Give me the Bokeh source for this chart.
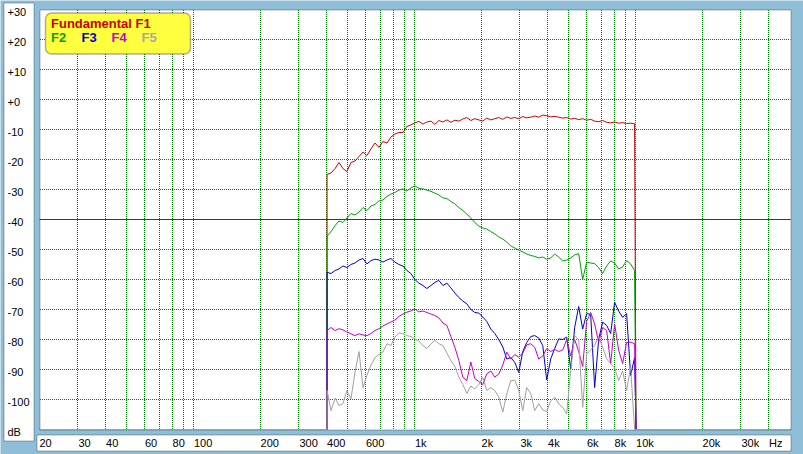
import math
from bokeh.plotting import figure
from bokeh.models import Range1d, BoxAnnotation, Label, ColumnDataSource
from bokeh.embed import file_html
from bokeh.resources import INLINE

# ---------------- data ----------------
FREQ_HZ = [400, 417, 435, 453, 472, 492, 513, 535, 558, 582,
           606, 632, 659, 687, 716, 747, 778, 811, 846, 882,
           919, 958, 999, 1041, 1086, 1132, 1180, 1230, 1282, 1337,
           1394, 1453, 1515, 1579, 1646, 1716, 1789, 1865, 1944, 2027,
           2113, 2203, 2296, 2394, 2496, 2602, 2712, 2827, 2947, 3073,
           3203, 3339, 3481, 3629, 3784, 3944, 4112, 4287, 4469, 4659,
           4857, 5063, 5278, 5503, 5737, 5980, 6234, 6499, 6776, 7063,
           7364, 7677, 8003, 8343, 8698, 9067, 9453, 9854]

F1_DB = [-25, -24.5, -23, -21, -23, -24, -21, -20.5, -19, -17.5,
         -18.7, -16.5, -14.5, -16, -14, -14.5, -12.5, -11.5, -11, -11,
         -9, -8.5, -7.8, -7.3, -8.2, -7.5, -7.2, -8.3, -7, -7.5,
         -6.8, -7.6, -6.9, -7.2, -6.5, -6, -7, -6.4, -6.8, -7.2,
         -6.2, -6.8, -6.4, -6, -6.6, -5.8, -6.3, -6, -6.4, -5.7,
         -6.1, -5.9, -5.5, -5.9, -5.2, -5.4, -5.8, -5.6, -5.9, -6.2,
         -6, -6.5, -6.3, -6.7, -6.4, -6.9, -6.6, -7.2, -7.4, -7,
         -7.6, -7.8, -7.5, -7.9, -7.7, -8, -7.9, -8.1]

F2_DB = [-45.5, -44, -42, -40.5, -41, -39.5, -38, -38.5, -37.5, -36,
         -37, -35.5, -35, -33.8, -33.5, -32.3, -31.5, -31, -30.2, -29.8,
         -30.5, -29.5, -28.8, -29.6, -29.8, -30.2, -30.6, -31.2, -31.8, -32.8,
         -33, -34, -34.8, -36, -37, -38.2, -39.5, -41, -42.2, -42.8,
         -43.2, -44, -44.8, -45.8, -46.5, -47.5, -48.8, -49.5, -50.2, -50.8,
         -51.5, -52, -52.3, -52.8, -52.5, -53.2, -52.8, -51.5, -52.5, -53.8,
         -53.5, -52.8, -51.8, -51.4, -60, -54.2, -54.5, -54.7, -56, -58,
         -55.5, -53.8, -54.5, -56.5, -55.8, -53.7, -54.8, -57]

F3_DB = [-57.6, -58, -57, -56.5, -55.5, -56, -55, -54.5, -53.5, -53,
         -54.8, -53.7, -53.2, -53.5, -54.2, -53.5, -53, -54.2, -55, -55.5,
         -57, -58, -60, -61.2, -62, -63, -62, -61, -60.3, -62,
         -61.2, -62.8, -64.5, -66, -67.2, -68.1, -70, -71, -71.2, -72.5,
         -74, -76.5, -78, -80, -82.5, -86.5, -86, -87.6, -91, -84,
         -81, -79, -78.7, -79.5, -82, -93.5, -86.5, -83, -79.8, -80,
         -79.2, -89.8, -76, -69, -76.5, -71.4, -71.6, -96, -80, -74.2,
         -75.3, -78, -67.6, -70.5, -72.6, -71.4, -92, -86]

F4_DB = [-77, -76, -77, -76.4, -76.8, -77.5, -78.1, -78.7, -78.1, -78.5,
         -78.7, -78, -77, -76.4, -75.5, -74.8, -74.2, -73.5, -72.3, -71.5,
         -70.9, -70.5, -69.8, -70.8, -70.5, -71, -71.5, -72, -72.8, -74.5,
         -75.3, -79, -82.6, -87, -92.6, -93.7, -87.5, -93, -94, -95,
         -91.4, -90.5, -92.5, -91.5, -88.5, -84.2, -86.5, -85, -85.9, -84.5,
         -81.8, -81.4, -82.6, -86.5, -85.5, -83, -84, -83.3, -84, -83.5,
         -80, -85.5, -80, -84, -89, -74, -71, -74.8, -81, -76,
         -77, -88, -74.8, -83.5, -88, -81, -80.9, -81.4]

F5_DB = [-97, -103.7, -99.5, -102, -101.4, -97, -99.8, -91, -84, -96,
         -92, -88.5, -86, -85, -84.2, -81.4, -82, -79.2, -77.8, -78.1,
         -78.7, -79, -79.8, -80.5, -82, -83, -81.5, -80.3, -81.4, -82,
         -84.5, -87, -89, -92.5, -95, -98, -95.5, -96.5, -95, -92.6,
         -97, -96, -97, -99.2, -104.2, -98.1, -93.7, -93.5, -97, -103.7,
         -96, -98, -103.7, -101.4, -103.5, -104, -100.5, -99.2, -101.5, -102.6,
         -104.8, -90.3, -78.7, -80, -102.6, -84.8, -83.5, -82, -79, -82.6,
         -86.4, -88.1, -89.5, -93.7, -90.5, -97, -89.2, -110]

SERIES_NAMES = ["F1", "F2", "F3", "F4", "F5"]
SERIES_COLORS = ["#c80000", "#00a000", "#0000c8", "#c800c8", "#a0a0a0"]
SERIES_VALUES = [F1_DB, F2_DB, F3_DB, F4_DB, F5_DB]
LEGEND_TITLE = "Fundamental F1"

FREQ_MIN, FREQ_MAX = 20, 50000
BAND_END_HZ = 10000
FLOOR_DB, TOP_DB = -110, 30
REF_LEVEL_DB = -40

X_TICKS = [20, 30, 40, 60, 80, 100, 200, 300, 400, 600, 1000, 2000, 3000, 4000,
           6000, 8000, 10000, 20000, 30000, 40000]
X_TICK_LABELS = ["20", "30", "40", "60", "80", "100", "200", "300", "400", "600",
                 "1k", "2k", "3k", "4k", "6k", "8k", "10k", "20k", "30k", "Hz"]
X_GRID = [30, 40, 50, 60, 70, 80, 90, 100, 200, 300, 400, 500, 600, 700, 800, 900,
          1000, 2000, 3000, 4000, 5000, 6000, 7000, 8000, 9000,
          10000, 20000, 30000, 40000]
Y_TICKS = [-100, -90, -80, -70, -60, -50, -40, -30, -20, -10, 0, 10, 20, 30]
Y_TICK_LABELS = ["-100", "-90", "-80", "-70", "-60", "-50", "-40", "-30",
                 "-20", "-10", "+0", "+10", "+20", "+30"]
Y_UNIT_LABEL = "dB"
Y_GRID = [-100, -90, -80, -70, -60, -50, -40, -30, -20, -10, 0, 10, 20]

# ---------------- layout / styles ----------------
W, H = 803, 454
PLOT_L, PLOT_R, PLOT_T, PLOT_B = 39, 790, 9, 429   # plot window in pixels
BG_BLUE = "#8fbfd8"
GRID_GREEN = "#008000"
REF_RED = "#c00000"
FONT = "Liberation Sans"

# ranges chosen so that the plot window maps exactly onto FREQ_MIN..FREQ_MAX / FLOOR..TOP
px_dec = (PLOT_R - PLOT_L) / math.log10(FREQ_MAX / FREQ_MIN)
x_lo = FREQ_MIN * 10 ** (-PLOT_L / px_dec)
x_hi = FREQ_MAX * 10 ** ((W - PLOT_R) / px_dec)
px_db = (PLOT_B - PLOT_T) / (TOP_DB - FLOOR_DB)
y_hi = TOP_DB + PLOT_T / px_db
y_lo = FLOOR_DB - (H - PLOT_B) / px_db

# grid dots placed on whole pixels so that they render crisp
def snap_freq(f):
    px = math.floor(math.log10(f / FREQ_MIN) * px_dec)
    return FREQ_MIN * 10 ** (px / px_dec)

grid_f = [snap_freq(f) for f in X_GRID]
grid_f0 = FREQ_MIN * 10 ** (0.5 / px_dec)
grid_db0 = FLOOR_DB + 0.5 / px_db

p = figure(width=W, height=H, x_axis_type="log",
           x_range=Range1d(x_lo, x_hi), y_range=Range1d(y_lo, y_hi),
           output_backend="svg", toolbar_location=None, min_border=0)
p.axis.visible = False
p.grid.visible = False
p.outline_line_color = None
p.background_fill_color = BG_BLUE
p.border_fill_color = BG_BLUE

def cbox(l, r, t, b, **kw):
    return BoxAnnotation(left=l, right=r, top=t, bottom=b,
                         left_units="canvas", right_units="canvas",
                         top_units="canvas", bottom_units="canvas", **kw)

# white panels (label boxes and plot window)
p.add_layout(cbox(3.5, 33.5, 2.5, 440.5, fill_color="white", fill_alpha=1,
                  line_color="black", line_width=1, level="image"))
p.add_layout(cbox(36.5, 790.5, 434.5, 450.5, fill_color="white", fill_alpha=1,
                  line_color="black", line_width=1, level="image"))
p.add_layout(cbox(PLOT_L + 0.5, PLOT_R + 0.5, PLOT_T + 0.5, PLOT_B + 0.5,
                  fill_color="white", fill_alpha=1, line_color=None, level="image"))
p.add_layout(cbox(PLOT_L + 0.5, PLOT_R + 0.5, PLOT_T + 0.5, PLOT_B + 0.5, fill_alpha=0,
                  line_color="black", line_width=1, level="underlay"))

# dotted grid
vg = ColumnDataSource(dict(f=grid_f, lo=[grid_db0] * len(grid_f), hi=[TOP_DB] * len(grid_f)))
p.segment(x0="f", y0="lo", x1="f", y1="hi", source=vg,
          line_color=GRID_GREEN, line_dash="1 1", line_width=1)
hg = ColumnDataSource(dict(db=Y_GRID, lo=[grid_f0] * len(Y_GRID), hi=[FREQ_MAX] * len(Y_GRID)))
p.segment(x0="lo", y0="db", x1="hi", y1="db", source=hg,
          line_color=GRID_GREEN, line_dash="1 1", line_width=1)

# traces: analyzer floor outside the measured band
for name, color, vals in zip(SERIES_NAMES, SERIES_COLORS, SERIES_VALUES):
    xs = [FREQ_MIN, FREQ_HZ[0]] + FREQ_HZ + [BAND_END_HZ, FREQ_MAX]
    ys = [FLOOR_DB, FLOOR_DB] + vals + [FLOOR_DB, FLOOR_DB]
    src = ColumnDataSource(dict(f=xs, db=ys))
    p.line("f", "db", source=src, line_color=color, line_width=1)

# reference level
ref = ColumnDataSource(dict(f=[FREQ_MIN, FREQ_MAX], db=[REF_LEVEL_DB, REF_LEVEL_DB]))
p.line("f", "db", source=ref, line_color=REF_RED, line_width=1)

# tick labels
tick_style = dict(text_font=FONT, text_font_size="11px", text_color="black",
                  text_baseline="middle", text_align="left")
for f, t in zip(X_TICKS, X_TICK_LABELS):
    p.add_layout(Label(x=f, y=442, x_units="data", y_units="canvas", text=t, **tick_style))
for v, t in zip(Y_TICKS, Y_TICK_LABELS):
    p.add_layout(Label(x=7, y=v, x_units="canvas", y_units="data", text=t,
                       y_offset=-2, **tick_style))
p.add_layout(Label(x=7, y=431, x_units="canvas", y_units="canvas", text=Y_UNIT_LABEL,
                   **tick_style))

# legend box
p.add_layout(cbox(45, 190, 12.5, 53.5, fill_color="#ffff40", fill_alpha=1,
                  line_color="black", line_width=1.5, border_radius=6))
legend_items = [(LEGEND_TITLE, 50.5, 22.5, SERIES_COLORS[0]),
                (SERIES_NAMES[1], 50.5, 37, SERIES_COLORS[1]),
                (SERIES_NAMES[2], 81, 37, SERIES_COLORS[2]),
                (SERIES_NAMES[3], 111, 37, SERIES_COLORS[3]),
                (SERIES_NAMES[4], 141, 37, "#a8a8a8")]
for text, x, y, c in legend_items:
    p.add_layout(Label(x=x, y=y, x_units="canvas", y_units="canvas", text=text,
                       text_color=c, text_font=FONT, text_font_style="bold",
                       text_font_size="13px", text_baseline="middle", text_align="left"))

open("out.html", "w").write(file_html(p, INLINE))
